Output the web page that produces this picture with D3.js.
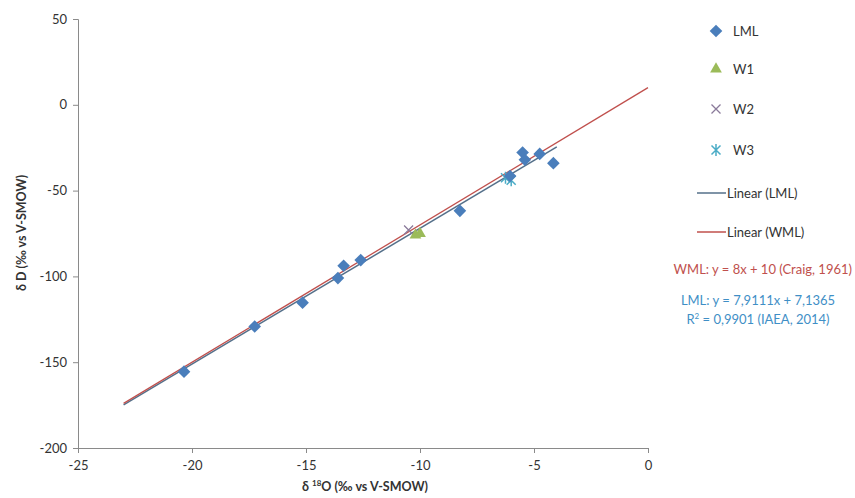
<!DOCTYPE html>
<html><head><meta charset="utf-8">
<script src="https://cdn.jsdelivr.net/npm/d3@7"></script>
<style>body{margin:0;background:#fff;font-family:Lato,"Open Sans",sans-serif;}</style>
</head><body><svg id="c" width="855" height="498"></svg>
<script>
const lmlX = [-20.35,-17.25,-15.15,-13.6,-13.35,-12.6,-8.25,-6.05,-5.5,-5.4,-4.75,-4.15];
const lmlY = [-155.5,-129.2,-115.3,-101,-93.8,-90.5,-61.8,-41.5,-27.8,-32,-28.6,-34];
const w1X = [-10.2,-10.0];
const w1Y = [-76,-75];
const w2X = [-10.5];
const w2Y = [-73];
const w3X = [-6.25,-6.0];
const w3Y = [-42.5,-44];
const xTicks = [-25,-20,-15,-10,-5,0];
const yTicks = [-200,-150,-100,-50,0,50];
const lmlSlope = 7.9111, lmlIntercept = 7.1365, lmlRange = [-23,-4];
const wmlSlope = 8, wmlIntercept = 10, wmlRange = [-23,0];

const svg = d3.select("#c");
const x = d3.scaleLinear().domain([-25,0]).range([78,648]);
const y = d3.scaleLinear().domain([-200,50]).range([448,19]);
const axisColor = "#8a8a8a";

const gx = svg.append("g").attr("transform","translate(0,448)")
  .call(d3.axisBottom(x).tickValues(xTicks).tickFormat(d=>String(d)).tickSize(5).tickPadding(8));
const gy = svg.append("g").attr("transform","translate(78,0)")
  .call(d3.axisLeft(y).tickValues(yTicks).tickFormat(d=>String(d)).tickSize(5).tickPadding(6));
[gx,gy].forEach(g=>{
  g.selectAll("path,line").attr("stroke",axisColor);
  g.selectAll("text").attr("fill","#333").style("font-size","13px").style("font-family","Lato,sans-serif");
});

// lines
const lineGen = d3.line().x(d=>x(d[0])).y(d=>y(d[1]));
svg.append("path").datum(lmlRange.map(v=>[v,lmlSlope*v+lmlIntercept]))
  .attr("d",lineGen).attr("stroke","#55708a").attr("stroke-width",1.5).attr("fill","none");
svg.append("path").datum(wmlRange.map(v=>[v,wmlSlope*v+wmlIntercept]))
  .attr("d",lineGen).attr("stroke","#c0504d").attr("stroke-width",1.3).attr("fill","none");

function drawDiamond(g,cx,cy){
  g.append("path").attr("d",d3.symbol().type(d3.symbolSquare).size(80)())
   .attr("transform",`translate(${cx},${cy}) rotate(45)`).attr("fill","#4a7ebb");
}
function drawTri(g,cx,cy){
  g.append("path").attr("d",d3.symbol().type(d3.symbolTriangle).size(60)())
   .attr("transform",`translate(${cx},${cy})`).attr("fill","#9bbb59");
}
function drawX(g,cx,cy){
  g.append("path").attr("d",`M${cx-4.5},${cy-4.5}L${cx+4.5},${cy+4.5}M${cx-4.5},${cy+4.5}L${cx+4.5},${cy-4.5}`)
   .attr("stroke","#8a7a9a").attr("stroke-width",1.3).attr("fill","none");
}
function drawStar(g,cx,cy){
  g.append("path").attr("d",`M${cx-4.5},${cy-4.5}L${cx+4.5},${cy+4.5}M${cx-4.5},${cy+4.5}L${cx+4.5},${cy-4.5}M${cx},${cy-6}L${cx},${cy+6}`)
   .attr("stroke","#4bacc6").attr("stroke-width",1.5).attr("fill","none");
}
const pts = svg.append("g");
w3X.forEach((v,i)=>drawStar(pts,x(v),y(w3Y[i])));
lmlX.forEach((v,i)=>drawDiamond(pts,x(v),y(lmlY[i])));
w2X.forEach((v,i)=>drawX(pts,x(v),y(w2Y[i])));
w1X.forEach((v,i)=>drawTri(pts,x(v),y(w1Y[i])));

// axis titles
svg.append("text").attr("x",365).attr("y",491).attr("text-anchor","middle")
  .style("font-size","12.5px").style("font-weight","bold").attr("fill","#333")
  .html('δ <tspan font-size="8" dy="-5">18</tspan><tspan dy="5">O (‰ vs V-SMOW)</tspan>');
svg.append("text").attr("transform","translate(26,233) rotate(-90)").attr("text-anchor","middle")
  .style("font-size","12.5px").style("font-weight","bold").attr("fill","#333")
  .text("δ D (‰ vs V-SMOW)");

// legend
const leg = svg.append("g").style("font-size","13px").attr("fill","#333");
const legItems = [
  {t:"LML",y:31,draw:(g,cx,cy)=>drawDiamond(g,cx,cy)},
  {t:"W1",y:69,draw:(g,cx,cy)=>drawTri(g,cx,cy)},
  {t:"W2",y:109,draw:(g,cx,cy)=>drawX(g,cx,cy)},
  {t:"W3",y:150,draw:(g,cx,cy)=>drawStar(g,cx,cy)},
  {t:"Linear (LML)",y:193,line:"#55708a"},
  {t:"Linear (WML)",y:232,line:"#c0504d"}
];
legItems.forEach(it=>{
  if(it.line){
    leg.append("line").attr("x1",697).attr("x2",726).attr("y1",it.y).attr("y2",it.y)
      .attr("stroke",it.line).attr("stroke-width",1.5);
  } else it.draw(leg,716,it.y);
  leg.append("text").attr("x",it.line?727:733).attr("y",it.y+4.5).text(it.t);
});
svg.append("text").attr("x",852).attr("y",274).attr("text-anchor","end")
  .style("font-size","13px").attr("fill","#c0504d").text("WML: y = 8x + 10 (Craig, 1961)");
svg.append("text").attr("x",758).attr("y",305).attr("text-anchor","middle")
  .style("font-size","13px").attr("fill","#3f8fc6").text("LML: y = 7,9111x + 7,1365");
svg.append("text").attr("x",758).attr("y",324).attr("text-anchor","middle")
  .style("font-size","13px").attr("fill","#3f8fc6")
  .html('R<tspan font-size="8" dy="-5">2</tspan><tspan dy="5"> = 0,9901 (IAEA, 2014)</tspan>');
</script></body></html>
